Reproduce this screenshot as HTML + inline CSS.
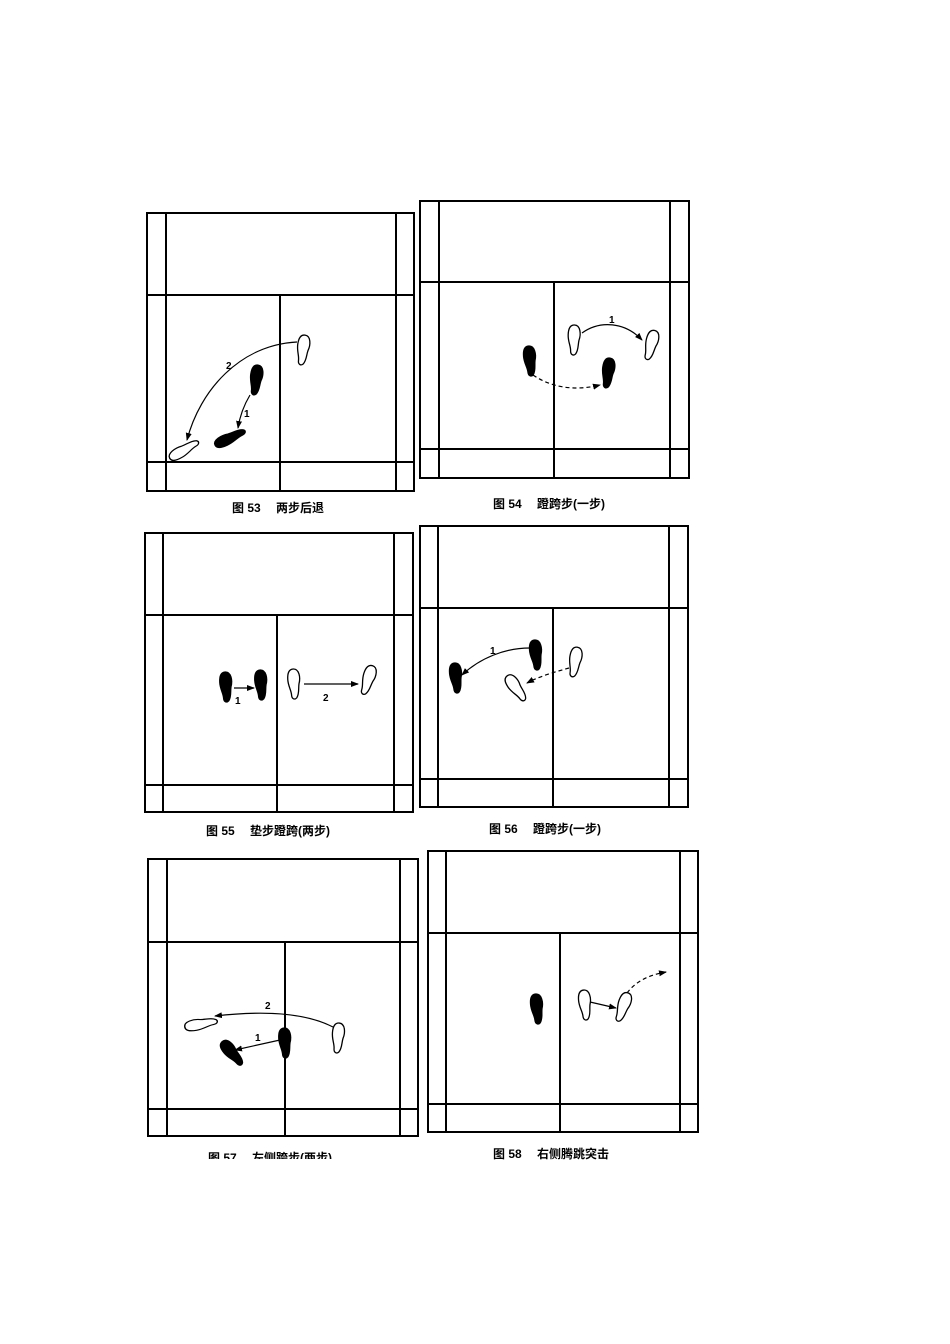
<!DOCTYPE html>
<html><head><meta charset="utf-8"><style>
html,body{margin:0;padding:0;background:#fff}
svg{display:block}
text{font-family:"Liberation Sans","Noto Sans CJK SC",sans-serif}
</style></head><body>
<svg width="950" height="1344" viewBox="0 0 950 1344" xmlns="http://www.w3.org/2000/svg">
<defs>
<path id="f" d="M0,-15 C6,-15 7,-6 5,0 C4,5 5,10 2,14 C0,16 -3,15 -3,11 C-3,6 -6,2 -6,-5 C-6,-12 -4,-15 0,-15Z"/>
<marker id="a" markerWidth="8" markerHeight="8" refX="7" refY="4" orient="auto" markerUnits="userSpaceOnUse"><path d="M0,1 L8,4 L0,7Z" fill="#000"/></marker>
<clipPath id="c57"><rect x="0" y="0" width="950" height="1159"/></clipPath>
</defs>
<g fill="none" stroke="#000" stroke-width="2">
<rect x="147" y="213" width="267" height="278"/>
<line x1="166" y1="213" x2="166" y2="491"/><line x1="396" y1="213" x2="396" y2="491"/>
<line x1="147" y1="295" x2="414" y2="295"/><line x1="280" y1="295" x2="280" y2="491"/><line x1="147" y1="462" x2="414" y2="462"/>
<rect x="420" y="201" width="269" height="277"/>
<line x1="439" y1="201" x2="439" y2="478"/><line x1="670" y1="201" x2="670" y2="478"/>
<line x1="420" y1="282" x2="689" y2="282"/><line x1="554" y1="282" x2="554" y2="478"/><line x1="420" y1="449" x2="689" y2="449"/>
<rect x="145" y="533" width="268" height="279"/>
<line x1="163" y1="533" x2="163" y2="812"/><line x1="394" y1="533" x2="394" y2="812"/>
<line x1="145" y1="615" x2="413" y2="615"/><line x1="277" y1="615" x2="277" y2="812"/><line x1="145" y1="785" x2="413" y2="785"/>
<rect x="420" y="526" width="268" height="281"/>
<line x1="438" y1="526" x2="438" y2="807"/><line x1="669" y1="526" x2="669" y2="807"/>
<line x1="420" y1="608" x2="688" y2="608"/><line x1="553" y1="608" x2="553" y2="807"/><line x1="420" y1="779" x2="688" y2="779"/>
<rect x="148" y="859" width="270" height="277"/>
<line x1="167" y1="859" x2="167" y2="1136"/><line x1="400" y1="859" x2="400" y2="1136"/>
<line x1="148" y1="942" x2="418" y2="942"/><line x1="285" y1="942" x2="285" y2="1136"/><line x1="148" y1="1109" x2="418" y2="1109"/>
<rect x="428" y="851" width="270" height="281"/>
<line x1="446" y1="851" x2="446" y2="1132"/><line x1="680" y1="851" x2="680" y2="1132"/>
<line x1="428" y1="933" x2="698" y2="933"/><line x1="560" y1="933" x2="560" y2="1132"/><line x1="428" y1="1104" x2="698" y2="1104"/>
</g>
<g stroke="#000" stroke-width="1.3">
<use href="#f" fill="#fff" transform="translate(303,350) rotate(8)"/>
<use href="#f" fill="#000" transform="translate(256,380) rotate(8)"/>
<use href="#f" fill="#000" transform="translate(230,438) rotate(-115) scale(0.9,1.1)"/>
<use href="#f" fill="#fff" transform="translate(184,450) rotate(-120) scale(0.9,1.1)"/>

<use href="#f" fill="#fff" transform="translate(574,340) rotate(2)"/>
<use href="#f" fill="#fff" transform="translate(651,345) rotate(15)"/>
<use href="#f" fill="#000" transform="translate(530,361) rotate(-5)"/>
<use href="#f" fill="#000" transform="translate(608,373) rotate(8)"/>

<use href="#f" fill="#000" transform="translate(226,687) rotate(-3)"/>
<use href="#f" fill="#000" transform="translate(261,685) rotate(-3)"/>
<use href="#f" fill="#fff" transform="translate(294,684) rotate(-3)"/>
<use href="#f" fill="#fff" transform="translate(368,680) rotate(18)"/>

<use href="#f" fill="#000" transform="translate(536,655) rotate(-5)"/>
<use href="#f" fill="#000" transform="translate(456,678) rotate(-5)"/>
<use href="#f" fill="#fff" transform="translate(575,662) rotate(10)"/>
<use href="#f" fill="#fff" transform="translate(516,688) rotate(-35)"/>

<use href="#f" fill="#fff" transform="translate(201,1024) rotate(-100) scale(0.9,1.1)"/>
<use href="#f" fill="#fff" transform="translate(338,1038) rotate(5)"/>
<use href="#f" fill="#000" transform="translate(285,1043) rotate(-3)"/>
<use href="#f" fill="#000" transform="translate(232,1053) rotate(-40)"/>

<use href="#f" fill="#000" transform="translate(537,1009) rotate(-5)"/>
<use href="#f" fill="#fff" transform="translate(585,1005) rotate(-5)"/>
<use href="#f" fill="#fff" transform="translate(623,1007) rotate(20)"/>
</g>
<g fill="none" stroke="#000" stroke-width="1.2" marker-end="url(#a)">
<path d="M297,342 C240,345 200,390 187,440"/>
<path d="M250,395 C244,405 240,415 238,428"/>
<path d="M582,333 C600,320 625,322 642,340"/>
<path d="M533,375 C555,390 580,390 600,385" stroke-dasharray="4,3"/>
<path d="M234,688 L254,688"/>
<path d="M304,684 L358,684"/>
<path d="M530,648 C505,648 480,658 462,675"/>
<path d="M569,668 C555,672 540,676 527,683" stroke-dasharray="4,3"/>
<path d="M333,1027 C300,1010 250,1012 215,1016"/>
<path d="M280,1040 L235,1050"/>
<path d="M590,1002 L616,1008"/>
<path d="M627,993 C637,980 650,975 666,972" stroke-dasharray="4,3"/>
</g>
<g font-size="10" font-weight="bold">
<text x="226" y="369">2</text><text x="244" y="417">1</text>
<text x="609" y="323">1</text>
<text x="235" y="704">1</text><text x="323" y="701">2</text>
<text x="490" y="654">1</text>
<text x="265" y="1009">2</text><text x="255" y="1041">1</text>
</g>
<g font-size="12" font-weight="bold">
<text x="232" y="512">图 53　 两步后退</text>
<text x="493" y="508">图 54　 蹬跨步(一步)</text>
<text x="206" y="835">图 55　 垫步蹬跨(两步)</text>
<text x="489" y="833">图 56　 蹬跨步(一步)</text>
<text x="208" y="1162" clip-path="url(#c57)">图 57　 左侧跨步(两步)</text>
<text x="493" y="1158">图 58　 右侧腾跳突击</text>
</g>
</svg>
</body></html>
